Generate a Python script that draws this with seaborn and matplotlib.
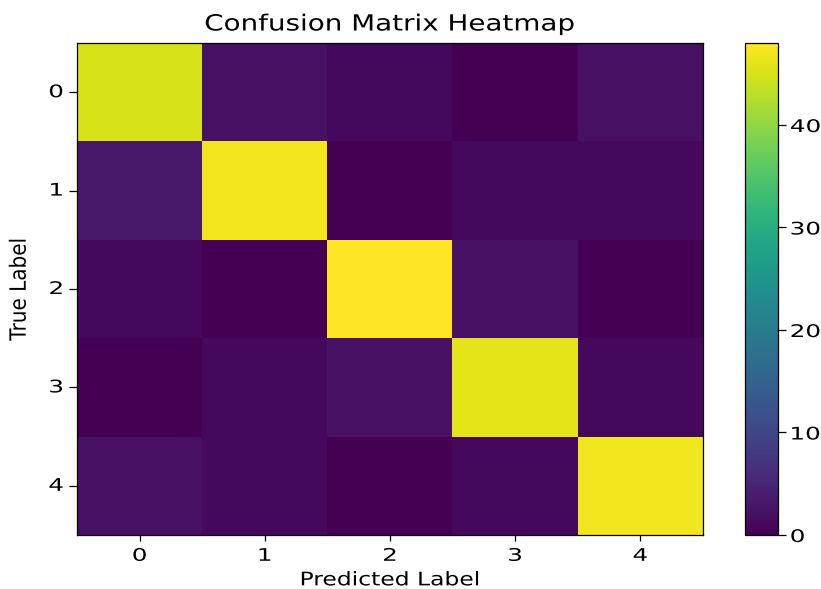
import numpy as np
import pandas as pd
import matplotlib
matplotlib.use("Agg")
import matplotlib.pyplot as plt
from matplotlib.patheffects import AbstractPathEffect
from matplotlib.transforms import Affine2D
import seaborn as sns

classes = ["0", "1", "2", "3", "4"]
row_0 = [45, 2, 1, 0, 2]
row_1 = [3, 47, 0, 1, 1]
row_2 = [1, 0, 48, 2, 0]
row_3 = [0, 1, 2, 46, 1]
row_4 = [2, 1, 0, 1, 47]
cbar_ticks = [0, 10, 20, 30, 40]

cm = pd.DataFrame([row_0, row_1, row_2, row_3, row_4], index=classes, columns=classes)


class HStretch(AbstractPathEffect):
    """Widen text glyphs horizontally about an anchor (left/center/right)."""
    def __init__(self, sx, anchor="center"):
        super().__init__()
        self.sx = sx
        self.anchor = anchor

    def draw_path(self, renderer, gc, tpath, affine, rgbFace=None):
        ext = tpath.get_extents(affine)
        if self.anchor == "left":
            cx = ext.x0
        elif self.anchor == "right":
            cx = ext.x1
        else:
            cx = 0.5 * (ext.x0 + ext.x1)
        t = affine + Affine2D().translate(-cx, 0).scale(self.sx, 1.0).translate(cx, 0)
        renderer.draw_path(gc, tpath, t, rgbFace)


plt.rcParams['font.family'] = ['DejaVu Sans']
fig = plt.figure(figsize=(8.21, 5.89), dpi=100)
ax = fig.add_axes([0.0938, 0.0917, 0.7622, 0.8353])
cax = fig.add_axes([0.9074, 0.0917, 0.0402, 0.8353])

sns.heatmap(cm, cmap="viridis", ax=ax, cbar_ax=cax, vmin=0, vmax=48,
            linewidths=0, square=False)

for s in ax.spines.values():
    s.set_visible(True)
    s.set_linewidth(0.9)
    s.set_color("black")
ax.tick_params(axis="x", length=4.5, width=0.9, labelsize=12.5, pad=4,
               bottom=True, color="black")
ax.tick_params(axis="y", length=5.8, width=0.9, labelsize=12.5, pad=4,
               left=True, color="black")
ax.set_yticklabels(classes, rotation=0)
ax.set_xticklabels(classes, rotation=0)
ax.set_title("Confusion Matrix Heatmap", fontsize=16, pad=9)
ax.set_xlabel("Predicted Label", fontsize=13.5)
ax.set_ylabel("True Label", fontsize=14.4)
ax.yaxis.set_label_coords(-0.077, 0.5)

cb = ax.collections[0].colorbar
cb.outline.set_visible(True)
cb.outline.set_linewidth(0.9)
cb.outline.set_edgecolor("black")
cb.set_ticks(cbar_ticks)
cax.tick_params(labelsize=12.5, length=5.8, width=0.9, pad=3)

ax.title.set_path_effects([HStretch(1.25)])
ax.xaxis.label.set_path_effects([HStretch(1.25)])
ax.yaxis.label.set_path_effects([HStretch(1.12)])
for t in ax.get_xticklabels():
    t.set_path_effects([HStretch(1.42, "center")])
for t in ax.get_yticklabels():
    t.set_path_effects([HStretch(1.42, "right")])
for t in cax.get_yticklabels():
    t.set_path_effects([HStretch(1.42, "left")])

fig.savefig("out.png", dpi=100)
